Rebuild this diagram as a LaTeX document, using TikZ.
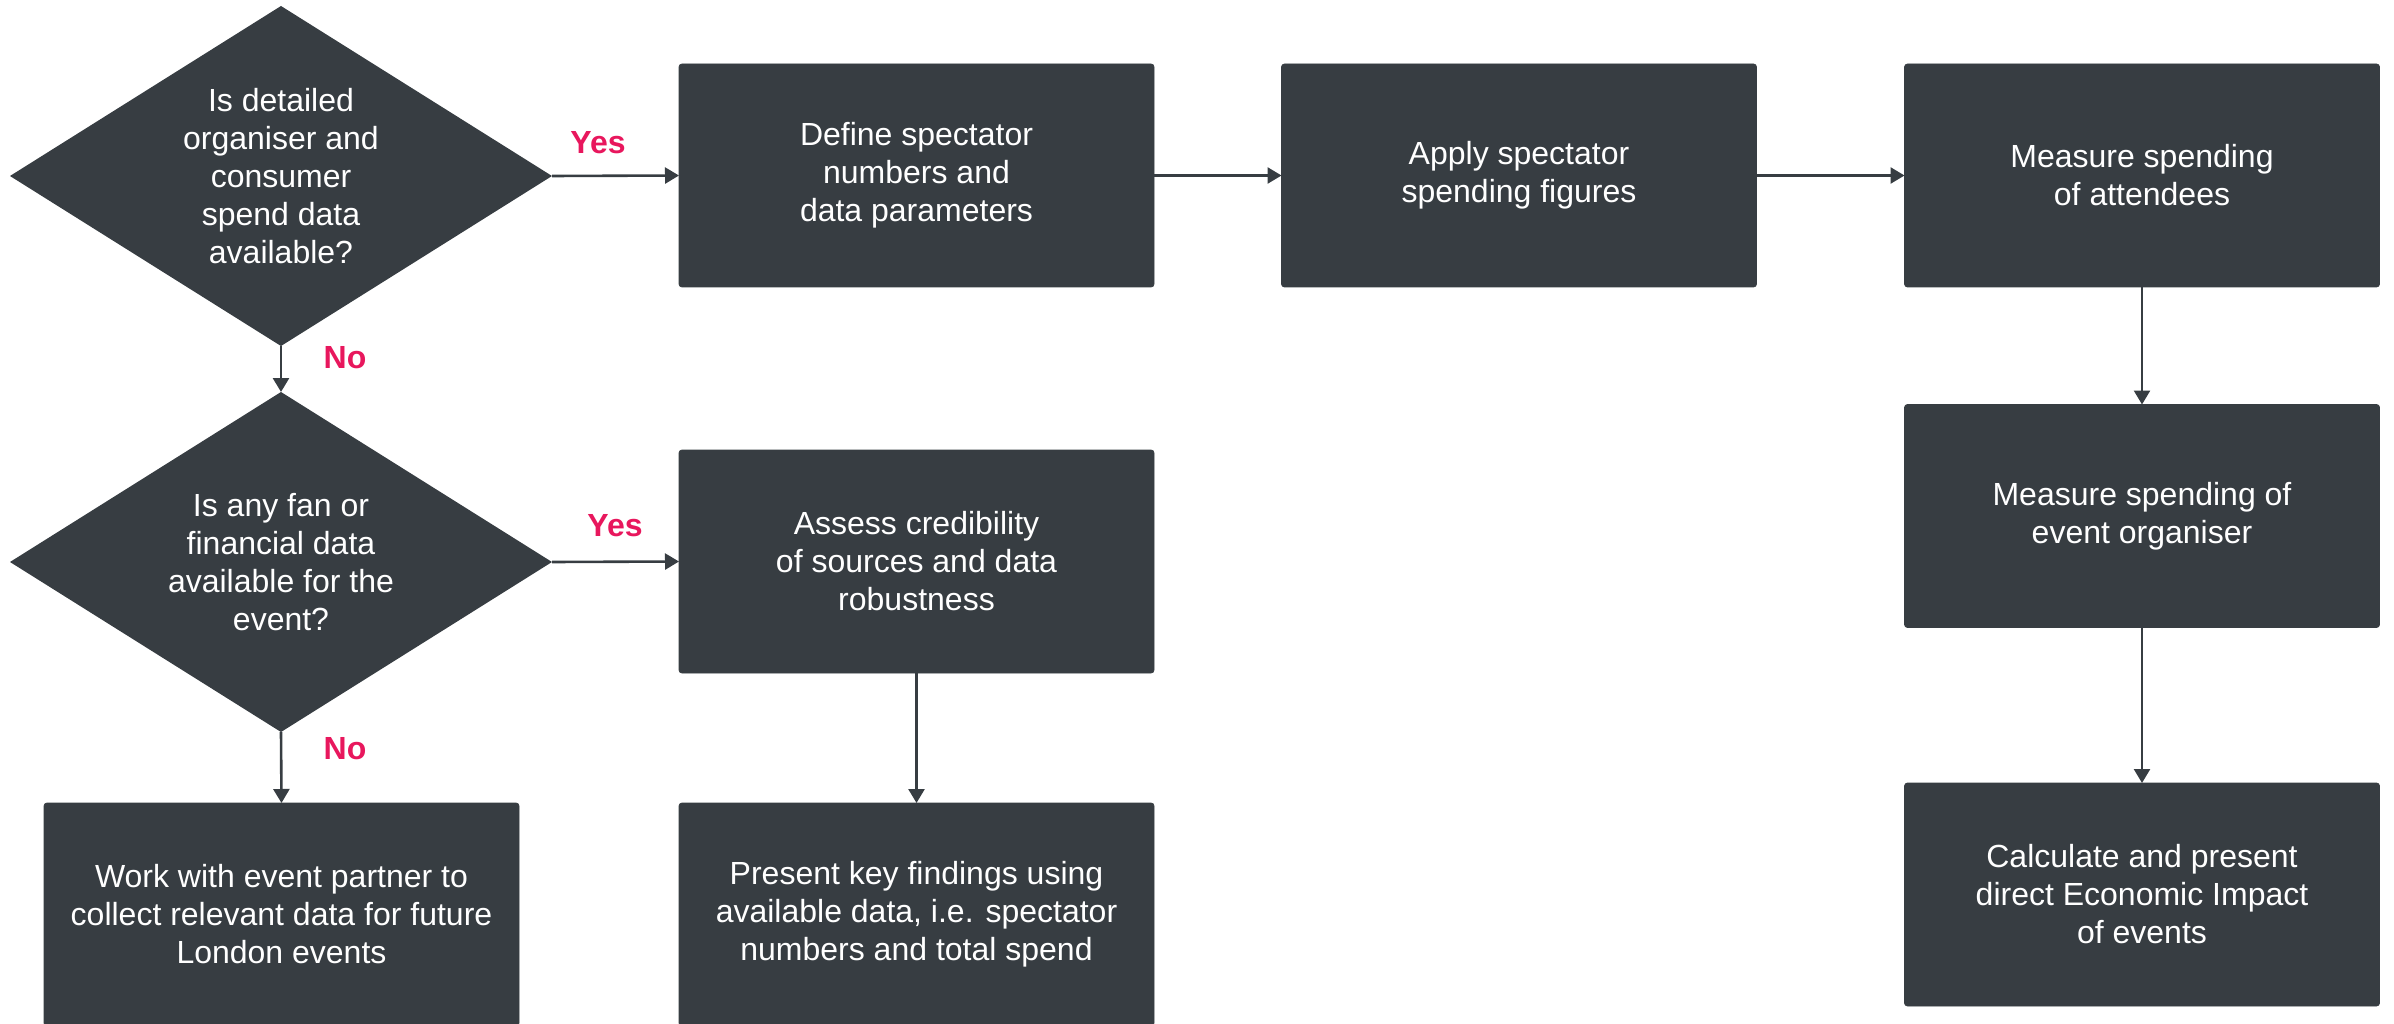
\documentclass[tikz,border=0pt]{standalone}
\usepackage{fontspec}
\setmainfont{Liberation Sans}
\usetikzlibrary{shapes.geometric,arrows.meta}
\definecolor{boxgrey}{HTML}{373D42}
\definecolor{labelpink}{RGB}{232,23,93}
\tikzset{
  stepbox/.style={rectangle, rounded corners=3pt, fill=boxgrey, draw=boxgrey, line width=0.8pt,
    minimum width=475pt, minimum height=223pt, inner sep=0pt, outer sep=0pt,
    text=white, align=center, font=\fontsize{32pt}{38pt}\selectfont},
  decision/.style={diamond, aspect=1.6, fill=boxgrey, minimum width=542pt, minimum height=340pt,
    inner sep=0pt, outer sep=0pt, text=white, align=center, font=\fontsize{32pt}{38pt}\selectfont},
  answer/.style={text=labelpink, font=\bfseries\fontsize{32pt}{38pt}\selectfont, inner sep=0pt},
  flow/.style={draw=boxgrey, line width=2.6pt, -{Triangle[length=14pt,width=16pt]}}
}
\begin{document}
\begin{tikzpicture}[x=1pt,y=-1pt]
\useasboundingbox (0,0) rectangle (2394,1024);
% decisions
\node[decision] (d1) at (281,176) {Is detailed\\organiser and\\consumer\\spend data\\available?};
\node[decision] (d2) at (281,562) {Is any fan or\\financial data\\available for the\\event?};
% top row
\node[stepbox] (define) at (916.5,175.5) {Define spectator\\numbers and\\data parameters};
\node[stepbox] (apply) at (1519,175.5) {Apply spectator\\spending figures};
\node[stepbox] (attend) at (2142,175.5) {Measure spending\\of attendees};
\node[stepbox] (organ) at (2142,516) {Measure spending of\\event organiser};
\node[stepbox] (calc) at (2142,894.5) {Calculate and present\\direct Economic Impact\\of events};
% middle / bottom
\node[stepbox] (assess) at (916.5,561.5) {Assess credibility\\of sources and data\\robustness};
\node[stepbox] (present) at (916.5,914.5) {Present key findings using\\available data, i.e. spectator\\numbers and total spend};
\node[stepbox] (work) at (281.5,914.5) {Work with event partner to\\collect relevant data for future\\London events};
% labels
\node[answer] (yes1) at (598,143) {Yes};
\node[answer] (no1) at (345,358) {No};
\node[answer] (yes2) at (615,526) {Yes};
\node[answer] (no2) at (345,749) {No};
% connectors
\draw[flow] (d1.east) -- (define.west);
\draw[flow] (define.east) -- (apply.west);
\draw[flow] (apply.east) -- (attend.west);
\draw[flow] (attend.south) -- (organ.north);
\draw[flow] (organ.south) -- (calc.north);
\draw[flow] (d1.south) -- (d2.north);
\draw[flow] (d2.east) -- (assess.west);
\draw[flow] (d2.south) -- (work.north);
\draw[flow] (assess.south) -- (present.north);
\end{tikzpicture}
\end{document}
